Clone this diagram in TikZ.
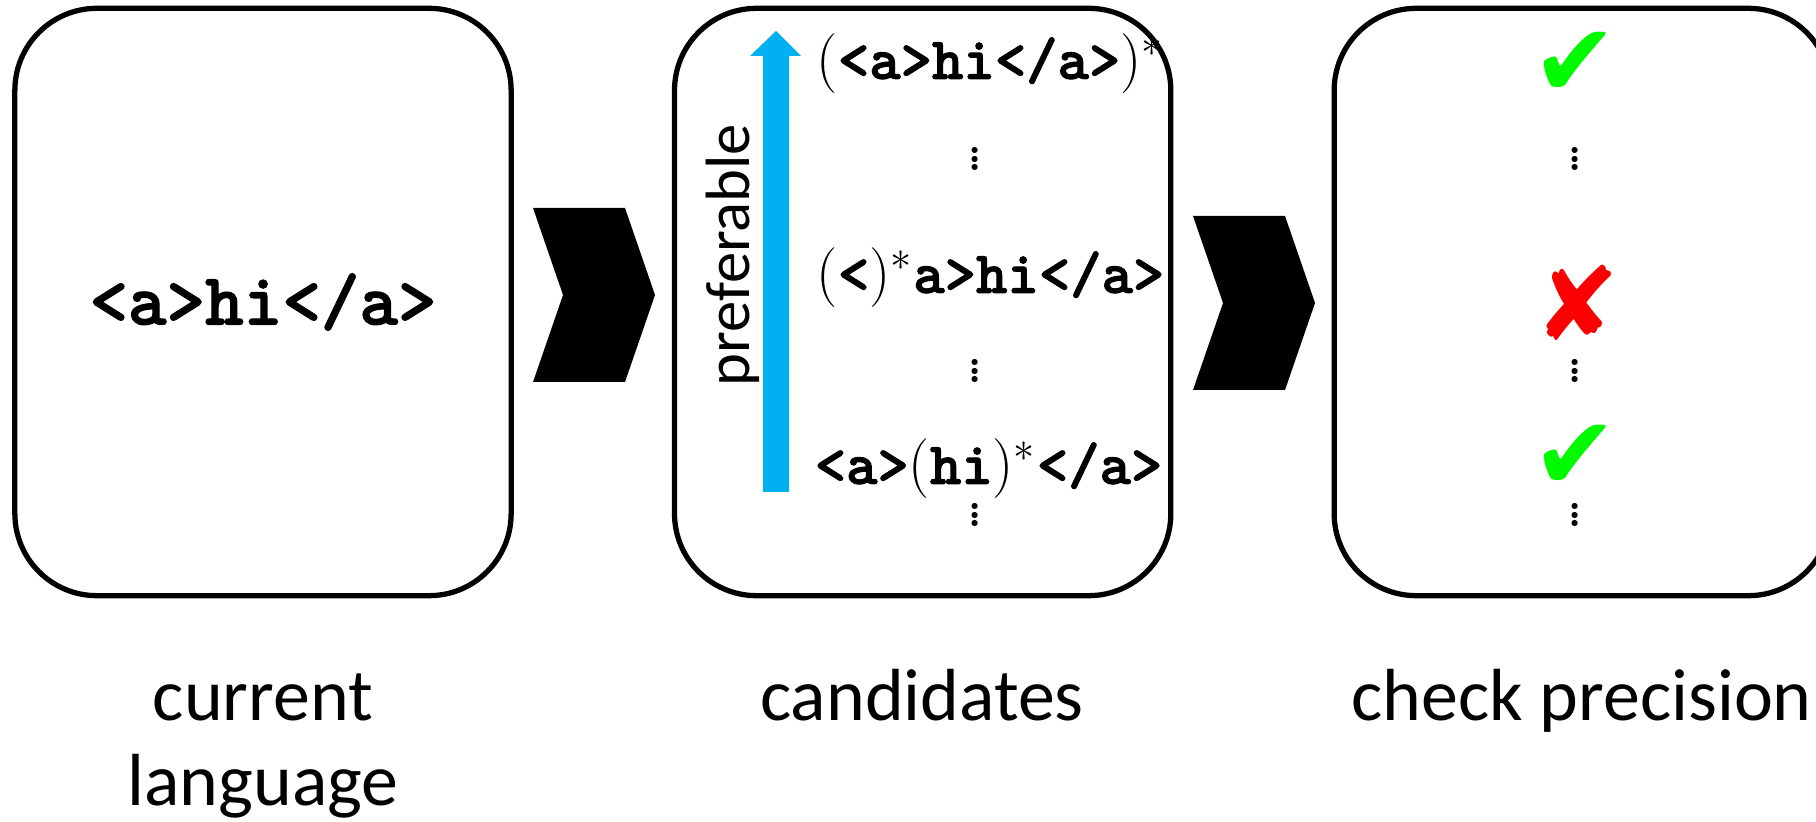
\documentclass[tikz,border=0pt]{standalone}
\usepackage{fontspec}
\newfontfamily\capfont{Carlito}
\newfontfamily\symfont{DejaVu Sans}
\newfontfamily\codefont{lmmonolt10-bold.otf}[FakeBold=1.6]
\usetikzlibrary{positioning}

\definecolor{prefblue}{HTML}{00B0F0}
\definecolor{okgreen}{HTML}{00FA00}
\definecolor{badred}{HTML}{FA0000}

\newcommand{\codetxt}[1]{{\codefont #1}}
\newcommand{\vdotsmall}{\vbox{\baselineskip=2.5pt\lineskiplimit=-5pt\hbox{.}\hbox{.}\hbox{.}}}

\begin{document}
\begin{tikzpicture}[x=0.01cm, y=-0.01cm,
  stage/.style={draw, line width=1.5pt, rounded corners=0.82cm,
    minimum width=4.96cm, minimum height=5.87cm},
  caption/.style={font=\capfont\fontsize{21}{24.5}\selectfont, anchor=base},
  cand/.style={font=\fontsize{17}{20}\selectfont, anchor=west, inner sep=0pt},
  skip/.style={font=\bfseries\fontsize{12}{12}\selectfont, inner sep=0pt},
  verdict/.style={font=\symfont\fontsize{29}{29}\selectfont, inner sep=0pt}]
\useasboundingbox (0,0) rectangle (1816,822);

% the three stages
\node[stage] (cur) at (263,302) {};
\node[stage, right=1.58cm of cur] (cnd) {};
\node[stage, right=1.58cm of cnd] (prc) {};

% chevrons between the stages
\fill (533,208) -- (625,208) -- (655,295) -- (625,382) -- (533,382) -- (563,295) -- cycle;
\fill (1193,216) -- (1285,216) -- (1315,303) -- (1285,390) -- (1193,390) -- (1223,303) -- cycle;

% current language
\node[font=\fontsize{20.9}{23}\selectfont] (lang) at (cur) {\codetxt{<a>hi</a>}};

% candidates, best first
\fill[prefblue] (763,492) -- (763,56) -- (750,56) -- (776,31) -- (801,56) -- (789,56) -- (789,492) -- cycle;
\node[rotate=90, font=\capfont\fontsize{17.8}{20}\selectfont] (pref) at (733,255) {preferable};
\node[cand] (c1) at (816,64) {(\codetxt{<a>hi</a>})$^*$};
\node[skip] (d1) at (975,159) {\vdotsmall};
\node[cand] (c2) at (816,278) {(\codetxt{<})$^*$\codetxt{a>hi</a>}};
\node[skip] (d2) at (975,371) {\vdotsmall};
\node[cand] (c3) at (814,469) {\codetxt{<a>}(\codetxt{hi})$^*$\codetxt{</a>}};
\node[skip] (d3) at (975,515) {\vdotsmall};

% precision check
\node[verdict, okgreen] (k1) at (1575,64) {✔};
\node[skip] (e1) at (1575,159) {\vdotsmall};
\node[verdict, badred] (k2) at (1577,303) {✘};
\node[skip] (e2) at (1575,371) {\vdotsmall};
\node[verdict, okgreen] (k3) at (1575,457) {✔};
\node[skip] (e3) at (1575,515) {\vdotsmall};

% captions
\node[caption] (t1) at (263,720) {current};
\node[caption] (t1b) at (263,805) {language};
\node[caption] (t2) at (922,720) {candidates};
\node[caption, anchor=base west] (t3) at (1339,720) {check precision};
\end{tikzpicture}
\end{document}
